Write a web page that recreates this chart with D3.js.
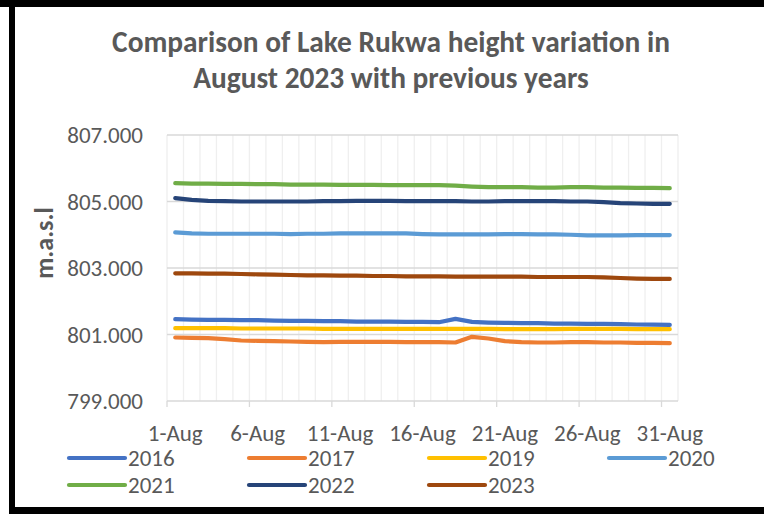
<!DOCTYPE html>
<html>
<head>
<meta charset="utf-8">
<script src="https://cdn.jsdelivr.net/npm/d3@7"></script>
<style>
    body { margin: 0; background: #ffffff; }
    text { font-family: Calibri, Carlito, Lato, "Liberation Sans", Arial, sans-serif; fill: #595959; }
</style>
</head>
<body>
<div id="chart"></div>
<script>
var days = d3.range(1, 32).map(function(d) { return d + "-Aug"; });
var tickLabels = ["1-Aug", "6-Aug", "11-Aug", "16-Aug", "21-Aug", "26-Aug", "31-Aug"];
var yTicks = [799, 801, 803, 805, 807];

var years = ["2016", "2017", "2019", "2020", "2021", "2022", "2023"];
var colors = ["#4472c4", "#ed7d31", "#ffc000", "#5b9bd5", "#70ad47", "#264478", "#9e480e"];

var h2016 = [801.46, 801.45, 801.44, 801.44, 801.43, 801.43, 801.42, 801.41, 801.41, 801.40,
             801.40, 801.39, 801.39, 801.39, 801.38, 801.38, 801.37, 801.47, 801.38, 801.36,
             801.35, 801.34, 801.34, 801.33, 801.33, 801.32, 801.32, 801.31, 801.30, 801.30, 801.29];
var h2017 = [800.91, 800.90, 800.89, 800.86, 800.82, 800.81, 800.80, 800.79, 800.78, 800.77,
             800.78, 800.78, 800.78, 800.78, 800.77, 800.77, 800.77, 800.76, 800.93, 800.88,
             800.80, 800.77, 800.76, 800.76, 800.77, 800.77, 800.76, 800.76, 800.75, 800.75, 800.74];
var h2019 = [801.19, 801.19, 801.19, 801.19, 801.18, 801.18, 801.18, 801.18, 801.18, 801.17,
             801.17, 801.17, 801.17, 801.17, 801.17, 801.17, 801.17, 801.17, 801.17, 801.17,
             801.16, 801.16, 801.16, 801.16, 801.17, 801.17, 801.17, 801.17, 801.16, 801.16, 801.16];
var h2020 = [804.07, 804.04, 804.03, 804.03, 804.03, 804.03, 804.03, 804.02, 804.03, 804.03,
             804.04, 804.04, 804.04, 804.04, 804.04, 804.02, 804.01, 804.01, 804.01, 804.01,
             804.02, 804.02, 804.01, 804.01, 804.00, 803.98, 803.98, 803.98, 803.99, 803.99, 803.99];
var h2021 = [805.55, 805.54, 805.54, 805.53, 805.53, 805.52, 805.52, 805.51, 805.51, 805.51,
             805.50, 805.50, 805.50, 805.49, 805.49, 805.49, 805.49, 805.48, 805.45, 805.43,
             805.43, 805.43, 805.42, 805.42, 805.43, 805.43, 805.42, 805.42, 805.41, 805.41, 805.40];
var h2022 = [805.10, 805.05, 805.02, 805.01, 805.00, 805.00, 805.00, 805.00, 805.00, 805.01,
             805.01, 805.02, 805.02, 805.02, 805.01, 805.01, 805.01, 805.01, 805.00, 805.00,
             805.01, 805.01, 805.01, 805.01, 805.00, 805.00, 804.98, 804.95, 804.94, 804.93, 804.93];
var h2023 = [802.84, 802.84, 802.83, 802.83, 802.82, 802.81, 802.80, 802.79, 802.78, 802.78,
             802.77, 802.77, 802.76, 802.76, 802.75, 802.75, 802.75, 802.74, 802.74, 802.74,
             802.74, 802.74, 802.73, 802.73, 802.73, 802.73, 802.72, 802.70, 802.68, 802.67, 802.67];

var heights = [h2016, h2017, h2019, h2020, h2021, h2022, h2023];

var series = years.map(function(y, i) {
    return { name: y, color: colors[i], values: heights[i] };
});

var W = 764, H = 514;
var plot = { left: 167, right: 678, top: 135, bottom: 401 };

var svg = d3.select("#chart")
    .append("svg")
    .attr("width", W)
    .attr("height", H);

svg.append("rect").attr("width", W).attr("height", H).attr("fill", "#ffffff");

// black frame bits around the screenshot
svg.append("rect").attr("x", 0).attr("y", 0).attr("width", W).attr("height", 7).attr("fill", "#000");
svg.append("rect").attr("x", 9).attr("y", 0).attr("width", 6).attr("height", H).attr("fill", "#000");
svg.append("rect").attr("x", 9).attr("y", 507).attr("width", W - 9).attr("height", 7).attr("fill", "#000");

var x = d3.scaleBand()
    .domain(days)
    .range([plot.left, plot.right]);

var y = d3.scaleLinear()
    .domain([799, 807])
    .range([plot.bottom, plot.top]);

// vertical gridlines on every category boundary
var boundaries = days.map(function(d) { return x(d); }).concat([plot.right]);
svg.append("g").selectAll("line")
    .data(boundaries).enter()
    .append("line")
    .attr("x1", function(d) { return d; })
    .attr("x2", function(d) { return d; })
    .attr("y1", plot.top)
    .attr("y2", plot.bottom)
    .attr("stroke", "#efefef")
    .attr("stroke-width", 1.3);

// horizontal gridlines
svg.append("g").selectAll("line")
    .data(yTicks).enter()
    .append("line")
    .attr("x1", plot.left)
    .attr("x2", plot.right)
    .attr("y1", function(d) { return y(d); })
    .attr("y2", function(d) { return y(d); })
    .attr("stroke", "#d9d9d9")
    .attr("stroke-width", 1.3);

// x tick marks every 5 categories
var tickPos = days.filter(function(d, i) { return i % 5 === 0; }).map(function(d) { return x(d); });
svg.append("g").selectAll("line")
    .data(tickPos).enter()
    .append("line")
    .attr("x1", function(d) { return d; })
    .attr("x2", function(d) { return d; })
    .attr("y1", plot.bottom)
    .attr("y2", plot.bottom + 6)
    .attr("stroke", "#d9d9d9")
    .attr("stroke-width", 1.3);

svg.append("g").selectAll("text")
    .data(tickLabels).enter()
    .append("text")
    .attr("x", function(d) { return x(d) + x.bandwidth() / 2; })
    .attr("y", 441)
    .attr("text-anchor", "middle")
    .style("font-size", "23px")
    .text(function(d) { return d; });

svg.append("g").selectAll("text")
    .data(yTicks).enter()
    .append("text")
    .attr("x", 143)
    .attr("y", function(d) { return y(d); })
    .attr("dy", "0.36em")
    .attr("text-anchor", "end")
    .style("font-size", "23px")
    .text(function(d) { return d3.format(".3f")(d); });

svg.append("text")
    .attr("transform", "translate(53,243) rotate(-90)")
    .attr("text-anchor", "middle")
    .style("font-size", "26px")
    .style("font-weight", "bold")
    .text("m.a.s.l");

var line = d3.line()
    .x(function(d, i) { return x(days[i]) + x.bandwidth() / 2; })
    .y(function(d) { return y(d); });

svg.append("g").selectAll("path")
    .data(series).enter()
    .append("path")
    .attr("d", function(d) { return line(d.values); })
    .attr("fill", "none")
    .attr("stroke", function(d) { return d.color; })
    .attr("stroke-width", 4.2)
    .attr("stroke-linecap", "round")
    .attr("stroke-linejoin", "round");

// legend, 4 columns x 2 rows
var legend = svg.append("g").selectAll("g")
    .data(series).enter()
    .append("g")
    .attr("transform", function(d, i) {
        return `translate(${69 + (i % 4) * 180},${458 + Math.floor(i / 4) * 27})`;
    });

legend.append("line")
    .attr("x1", 0)
    .attr("x2", 56)
    .attr("stroke", function(d) { return d.color; })
    .attr("stroke-width", 4.2)
    .attr("stroke-linecap", "round");

legend.append("text")
    .attr("x", 59)
    .attr("dy", "0.36em")
    .style("font-size", "23px")
    .text(function(d) { return d.name; });

// title
var titleLines = ["Comparison of Lake Rukwa height variation in", "August 2023 with previous years"];
var title = svg.append("g").selectAll("text")
    .data(titleLines).enter()
    .append("text")
    .attr("x", 391)
    .attr("y", function(d, i) { return 52 + i * 36; })
    .attr("text-anchor", "middle")
    .style("font-size", "24px")
    .style("font-weight", "bold")
    .text(function(d) { return d; });

var w0 = title.nodes()[0].getComputedTextLength();
var fs = 24 * 558 / w0;
title.style("font-size", fs + "px");
</script>
</body>
</html>
